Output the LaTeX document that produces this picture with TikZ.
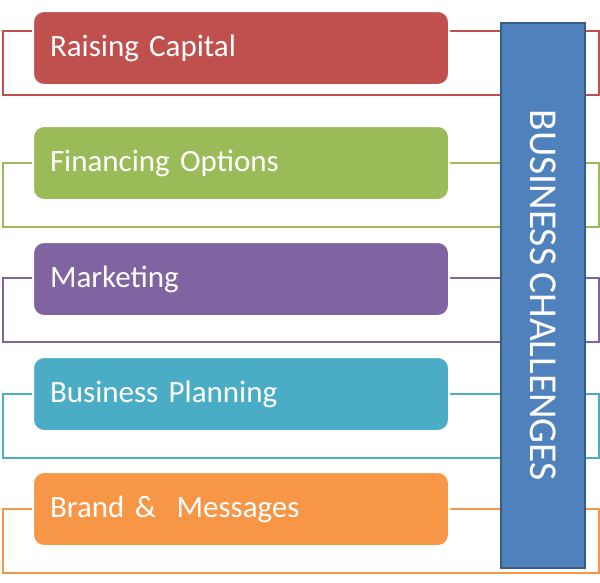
\documentclass[tikz,border=0pt]{standalone}
\usepackage{fontspec}
\setmainfont[WordSpace=0.8]{Carlito}
\definecolor{cred}{HTML}{C0504D}
\definecolor{cgreen}{HTML}{9BBB59}
\definecolor{cpurple}{HTML}{8064A2}
\definecolor{cteal}{HTML}{4BACC6}
\definecolor{corange}{HTML}{F79646}
\definecolor{cblue}{HTML}{4F81BD}
\definecolor{cbluedark}{HTML}{385D8A}
\begin{document}
\begin{tikzpicture}[x=1pt,y=-1pt,
  frame/.style={draw=#1, line width=1.6pt, rectangle, minimum width=596pt, minimum height=64pt, inner sep=0pt, anchor=north west},
  itembox/.style={fill=#1, draw=white, line width=2pt, rectangle, rounded corners=11pt,
     minimum width=416pt, minimum height=74pt, text width=382pt, align=left,
     inner xsep=16pt, inner ysep=0pt, anchor=north west, text=white,
     font=\fontsize{31}{37}\selectfont},
  bar/.style={fill=cblue, draw=cbluedark, line width=1.5pt, rectangle, minimum width=84pt, minimum height=545pt, inner sep=0pt, anchor=north west}
]
\path[fill=white] (0,0) rectangle (600,582);
\useasboundingbox (0,0) rectangle (600,582);

% outline frames
\node[frame=cred]    (f1) at (2,30)  {};
\node[frame=cgreen]  (f2) at (2,162) {};
\node[frame=cpurple] (f3) at (2,277) {};
\node[frame=cteal]   (f4) at (2,393) {};
\node[frame=corange] (f5) at (2,508) {};

% filled boxes
\node[itembox=cred]    (b1) at (32,10)  {Raising Capital};
\node[itembox=cgreen]  (b2) at (32,125) {Financing Options};
\node[itembox=cpurple] (b3) at (32,241) {Marketing};
\node[itembox=cteal]   (b4) at (32,356) {Business Planning};
\node[itembox=corange] (b5) at (32,471) {Brand \&\ \ Messages};

% vertical bar
\node[bar] (bar) at (500,22) {};
\node[rotate=-90, text=white, font=\fontsize{39.5}{44}\selectfont, inner sep=0pt] (title) at (bar.center) {BUSINESS CHALLENGES};
\end{tikzpicture}
\end{document}
